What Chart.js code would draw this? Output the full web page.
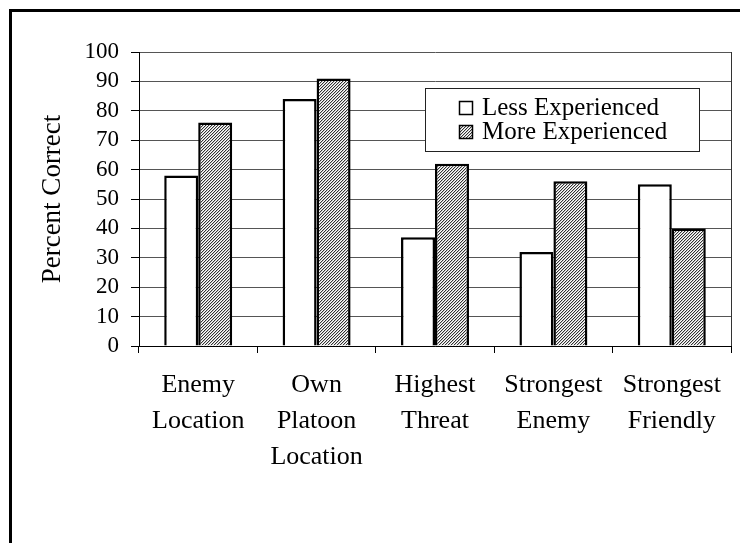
<!DOCTYPE html>
<html><head><meta charset="utf-8">
<script src="https://cdn.jsdelivr.net/npm/chart.js@4.4.0/dist/chart.umd.min.js"></script>
<style>
html,body{margin:0;padding:0;background:#fff;overflow:hidden;}
#wrap{position:relative;width:740px;height:543px;overflow:hidden;}
#frame{position:absolute;left:9px;top:9px;width:780px;height:620px;border:3px solid #000;box-sizing:border-box;pointer-events:none;}
canvas{display:block;}
</style></head><body>
<div id="wrap"><canvas id="c" width="740" height="543"></canvas><div id="frame"></div></div>
<script>
const categories = [["Enemy","Location"],["Own","Platoon","Location"],["Highest","Threat"],["Strongest","Enemy"],["Strongest","Friendly"]];
const seriesNames = ["Less Experienced","More Experienced"];
const lessExperienced = [58,84,37,32,55];
const moreExperienced = [76,91,62,56,40];
const yTickValues = [0,10,20,30,40,50,60,70,80,90,100];
const yTitle = "Percent Correct";

const FONT = "'Liberation Serif', 'Times New Roman', serif";

function makeHatch(){
  const c = document.createElement('canvas');
  c.width = 6; c.height = 6;
  const g = c.getContext('2d');
  g.fillStyle = '#fff'; g.fillRect(0,0,6,6);
  for (let x=0;x<6;x++) for (let y=0;y<6;y++) {
    const k = (x+y)%3;
    if (k===0) { g.fillStyle='#333'; g.fillRect(x,y,1,1); }
    else if (k===1) { g.fillStyle='#c4c4c4'; g.fillRect(x,y,1,1); }
  }
  return document.getElementById('c').getContext('2d').createPattern(c,'repeat');
}
const hatch = makeHatch();

const boxLegend = {
  id:'boxLegend',
  afterDatasetsDraw(chart){
    const ctx = chart.ctx;
    const x=425,y=88,w=274,h=63;
    ctx.save();
    ctx.fillStyle='#fff'; ctx.fillRect(x,y,w,h);
    ctx.strokeStyle='#222'; ctx.lineWidth=1; ctx.strokeRect(x+0.5,y+0.5,w,h);
    chart.data.datasets.forEach((ds,i)=>{
      const sy = 101 + i*24;
      ctx.fillStyle = ds.backgroundColor; ctx.fillRect(459, sy, 13, 13);
      ctx.strokeStyle='#000'; ctx.lineWidth=1.5; ctx.strokeRect(459.5, sy+0.5, 13, 13);
      ctx.fillStyle='#000'; ctx.font="25px " + FONT; ctx.textBaseline='middle'; ctx.textAlign='left';
      ctx.fillText(ds.label, 482, sy+7);
    });
    ctx.restore();
  }
};
const plotBorder = {
  id:'plotBorder',
  afterDraw(chart){
    const a = chart.chartArea, ctx = chart.ctx;
    ctx.save();
    ctx.strokeStyle='#333'; ctx.lineWidth=1;
    ctx.beginPath(); ctx.moveTo(Math.round(a.right)+0.5, a.top); ctx.lineTo(Math.round(a.right)+0.5, a.bottom); ctx.stroke();
    ctx.restore();
  }
};

new Chart(document.getElementById('c'), {
  type:'bar',
  data:{
    labels: categories,
    datasets:[
      {label: seriesNames[0], data: lessExperienced, backgroundColor:'#ffffff', borderColor:'#000', borderWidth:2.5},
      {label: seriesNames[1], data: moreExperienced, backgroundColor: hatch, borderColor:'#000', borderWidth:2.5}
    ]
  },
  options:{
    responsive:false, animation:false, devicePixelRatio:1,
    categoryPercentage:0.574, barPercentage:1,
    layout:{padding:{top:52,right:9,left:0,bottom:0}},
    plugins:{legend:{display:false}, tooltip:{enabled:false}},
    scales:{
      x:{
        offset:true,
        grid:{display:true, drawOnChartArea:false, drawTicks:true, tickLength:7, color:'#000', tickColor:'#000'},
        border:{display:true, color:'#000', width:1},
        ticks:{color:'#000', font:{family:FONT, size:26, lineHeight:1.38}, padding:14, maxRotation:0, autoSkip:false},
        afterFit(s){ s.height = 197; }
      },
      y:{
        min:0, max:100,
        afterBuildTicks(s){ s.ticks = yTickValues.map(v=>({value:v})); },
        grid:{color:'#555', tickLength:8, tickColor:'#000', lineWidth:1},
        border:{display:true, color:'#000', width:1},
        ticks:{color:'#000', font:{family:FONT, size:23}, padding:12, autoSkip:false},
        title:{display:true, text:yTitle, color:'#000', font:{family:FONT, size:27}, padding:{top:37,bottom:0}},
        afterFit(s){ s.width = 139; }
      }
    }
  },
  plugins:[boxLegend, plotBorder]
});
</script>
</body></html>
